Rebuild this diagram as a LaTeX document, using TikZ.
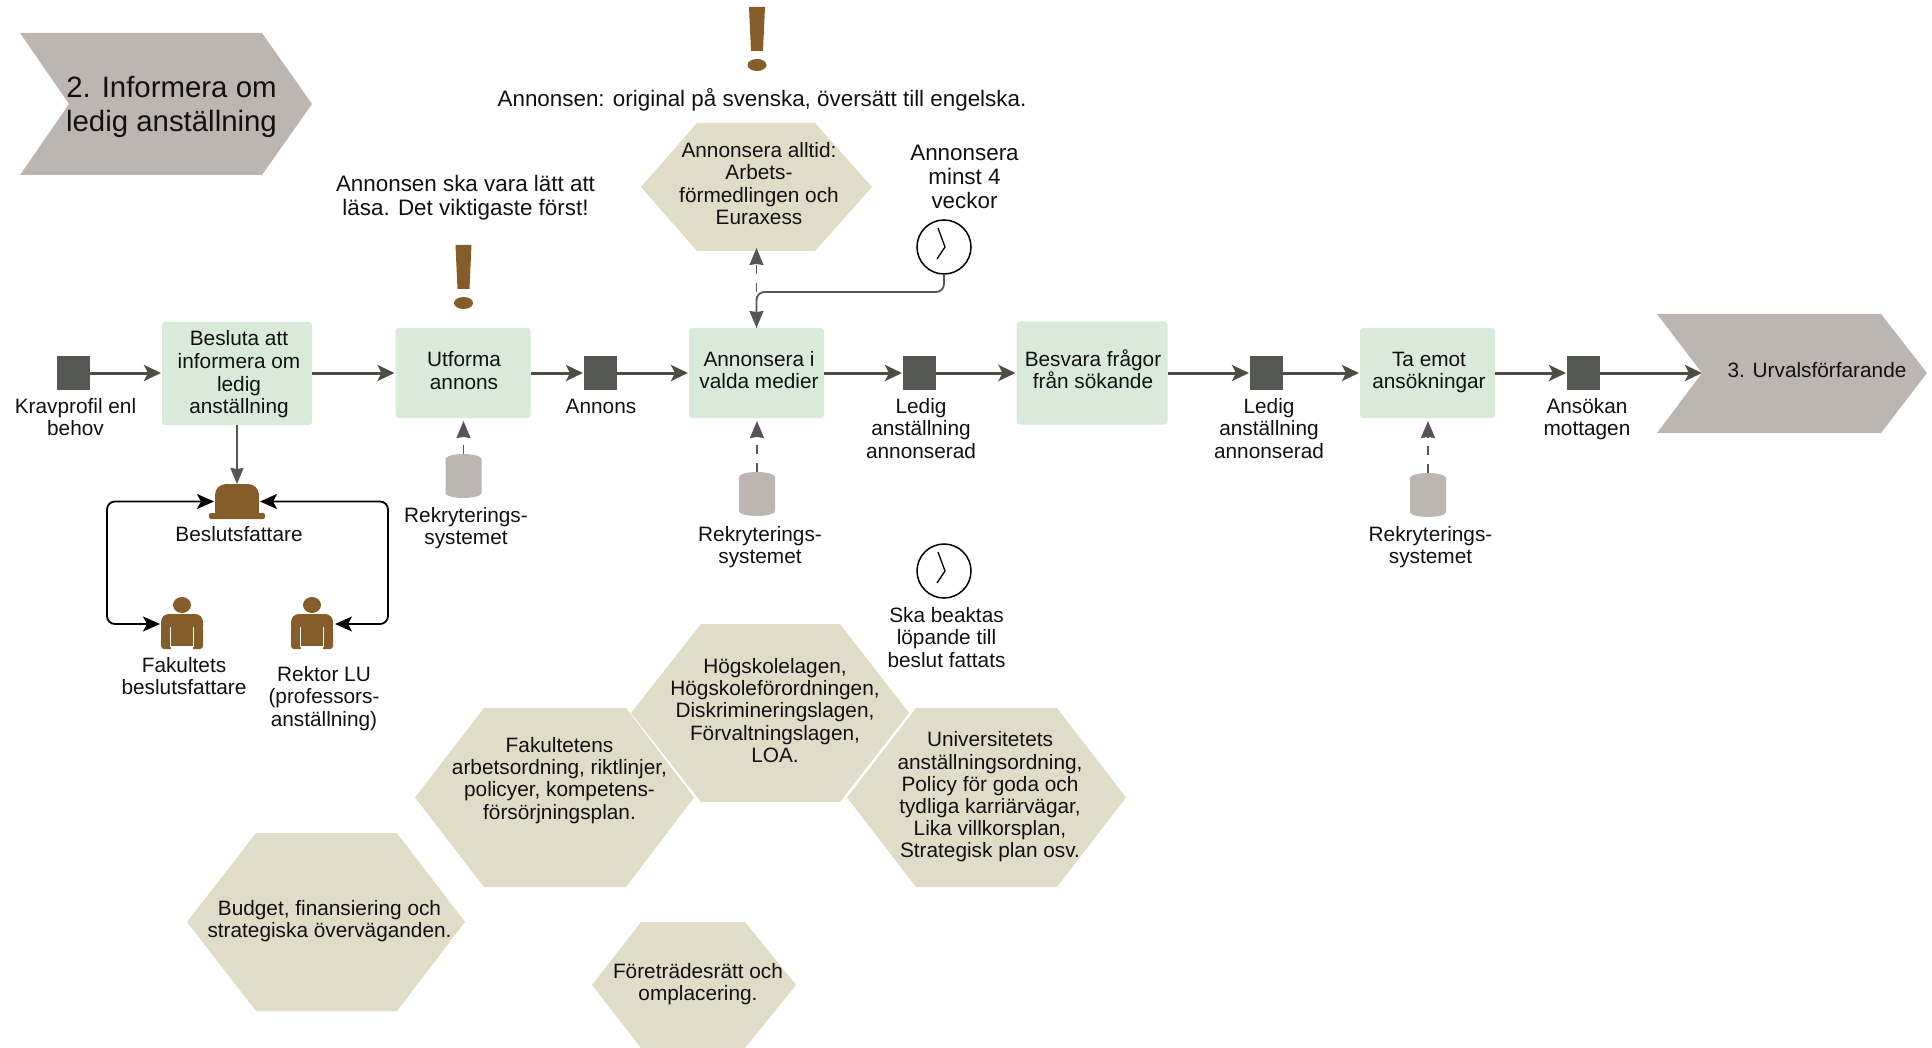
\documentclass[tikz,border=0pt]{standalone}
\usepackage{fontspec}
\setmainfont{Liberation Sans}
\usetikzlibrary{arrows.meta}
\definecolor{chev}{HTML}{BDB5B1}
\definecolor{taskc}{HTML}{D9EADB}
\definecolor{hexc}{HTML}{E0DCC8}
\definecolor{dark}{HTML}{555753}
\definecolor{brownc}{HTML}{845D2A}
\definecolor{arrowc}{HTML}{4D4D45}
\definecolor{txt}{HTML}{111111}
\tikzset{
  lbl/.style={align=center,inner sep=0pt,text=txt,font=\fontsize{20.8}{22.2}\selectfont},
  note/.style={lbl,font=\fontsize{22.4}{23.6}\selectfont},
  ghost/.style={inner sep=0pt,outer sep=0pt,rectangle},
  taskbox/.style={rectangle,fill=taskc,rounded corners=3pt,inner sep=0pt,outer sep=0pt},
  evbox/.style={rectangle,fill=dark,inner sep=0pt,outer sep=0pt,minimum width=33pt,minimum height=33pt},
  flow/.style={draw=arrowc,line width=3pt,-{Stealth[length=17pt,width=16pt,inset=4pt]}},
  dashflow/.style={draw=dark,line width=1.6pt,dash pattern=on 9pt off 9pt,-{Stealth[length=17pt,width=14pt,inset=1pt]}},
  blackflow/.style={draw=black,line width=1.8pt,rounded corners=8pt,{Stealth[length=17pt,width=15pt,inset=4pt]}-{Stealth[length=17pt,width=15pt,inset=4pt]}},
}
\newcommand\hexagonnode[9]{% name, left, topl, topr, right, top, bottom, tx, ty
  \fill[hexc] (#2,{(#6+#7)/2}) -- (#3,#6) -- (#4,#6) -- (#5,{(#6+#7)/2}) -- (#4,#7) -- (#3,#7) -- cycle;
  \node[ghost,minimum width={(#5-#2)*1pt},minimum height={(#7-#6)*1pt}] (#1) at ({(#2+#5)/2},{(#6+#7)/2}) {};
  \node[lbl] (#1t) at (#8,#9)
}
\newcommand\cylnode[3]{%
  \node[ghost,minimum width=36pt,minimum height=44pt,anchor=north] (#1) at (#2,#3) {};
  \fill[chev] ([yshift=-5pt]#1.north west) arc[x radius=18pt,y radius=5pt,start angle=180,end angle=0]
    -- ([yshift=5pt]#1.south east) arc[x radius=18pt,y radius=5pt,start angle=0,end angle=-180] -- cycle;
}
\newcommand\exclam[2]{%
  \begin{scope}[shift={(#1,#2)}]
    \fill[brownc] (-8,0) -- (8,0) -- (6,44) -- (-6,44) -- cycle;
    \fill[brownc] (0,58) ellipse[x radius=9.5pt,y radius=6pt];
  \end{scope}
}
\newcommand\clocknode[3]{%
  \node[circle,draw=black,line width=1.5pt,fill=white,minimum size=54pt,inner sep=0pt,outer sep=0pt] (#1) at (#2,#3) {};
  \begin{scope}[shift={(#2,#3)}]
    \draw[black,line width=1.3pt] (-6,-19) -- (1,0) -- (-7,12);
  \end{scope}
}
\newcommand\personnode[3]{%
  \node[ghost,minimum width=42pt,minimum height=20pt,anchor=north] (#1) at (#2,#3) {};
  \begin{scope}[shift={(#2,#3)}]
    \fill[brownc] (0,-9) ellipse[x radius=9pt,y radius=8pt];
    \fill[brownc,rounded corners=8pt] (-21,20) -- (-21,0) -- (21,0) -- (21,20) -- cycle;
    \fill[brownc,rounded corners=3pt] (-21,12) rectangle (21,35);
    \fill[white] (-11,32) rectangle (11,35.5);
    \draw[white,line width=1pt] (-11.5,13) -- (-11.5,33) (11.5,13) -- (11.5,33);
  \end{scope}
}
\begin{document}
\begin{tikzpicture}[x=1pt,y=-1pt]
\useasboundingbox (0,0) rectangle (1932,1048);
% chevrons
\fill[chev] (20,33) -- (262,33) -- (312,104) -- (262,175) -- (20,175) -- (69,104) -- cycle;
\node[lbl,font=\fontsize{29.4}{33.5}\selectfont] (title) at (171.5,107) {2. Informera om\\ledig anställning};
\fill[chev] (1657,314) -- (1881,314) -- (1927,373) -- (1881,433) -- (1657,433) -- (1702,373) -- cycle;
\coordinate (notch) at (1702,373);
\node[lbl] (next) at (1817,370) {3. Urvalsförfarande};
% events
\node[evbox] (ev1) at (73.5,373) {};
\node[evbox] (ev2) at (600.5,373) {};
\node[evbox] (ev3) at (919.5,373) {};
\node[evbox] (ev4) at (1266.5,373) {};
\node[evbox] (ev5) at (1583.5,373) {};
% tasks
\node[taskbox,minimum width=150pt,minimum height=103pt] (b1) at (237,373.5) {};
\node[taskbox,minimum width=135pt,minimum height=90pt] (b2) at (463,373) {};
\node[taskbox,minimum width=135pt,minimum height=90pt] (b3) at (756.5,373) {};
\node[taskbox,minimum width=151pt,minimum height=103pt] (b4) at (1092,373) {};
\node[taskbox,minimum width=135pt,minimum height=90pt] (b5) at (1427.5,373) {};
\node[lbl] (b1t) at (239,374.5) {Besluta att\\informera om\\[1.5pt]ledig\\anställning};
\node[lbl] (b2t) at (464,370.5) {Utforma\\annons};
\node[lbl] (b3t) at (759,370) {Annonsera i\\valda medier};
\node[lbl] (b4t) at (1093,369.5) {Besvara frågor\\från sökande};
\node[lbl] (b5t) at (1429,372.5) {Ta emot\\ansökningar};
% event labels
\node[lbl] (l1) at (75.5,417) {Kravprofil enl\\behov};
\node[lbl] (l2) at (601,406) {Annons};
\node[lbl] (l3) at (921,428.5) {Ledig\\anställning\\annonserad};
\node[lbl] (l4) at (1269,428.5) {Ledig\\anställning\\annonserad};
\node[lbl] (l5) at (1587,419) {Ansökan\\mottagen};
% flow
\draw[flow] (ev1.east) -- ([xshift=-1pt]b1.west |- ev1.east);
\draw[flow] (b1.east |- ev1.east) -- ([xshift=-1pt]b2.west);
\draw[flow] (b2.east) -- ([xshift=-1pt]ev2.west);
\draw[flow] (ev2.east) -- ([xshift=-1pt]b3.west);
\draw[flow] (b3.east) -- ([xshift=-1pt]ev3.west);
\draw[flow] (ev3.east) -- ([xshift=-1pt]b4.west);
\draw[flow] (b4.east) -- ([xshift=-1pt]ev4.west);
\draw[flow] (ev4.east) -- ([xshift=-1pt]b5.west);
\draw[flow] (b5.east) -- ([xshift=-1pt]ev5.west);
\draw[flow] (ev5.east) -- (notch);
% cylinders
\cylnode{c1}{463.5}{454}
\cylnode{c2}{757}{472}
\cylnode{c3}{1428}{473}
\node[lbl] (c1t) at (466,528) {Rekryterings-\\systemet};
\node[lbl] (c2t) at (760,547) {Rekryterings-\\systemet};
\node[lbl] (c3t) at (1430.5,547) {Rekryterings-\\systemet};
\draw[dashflow] (c1.north) -- ([yshift=-3pt]b2.south -| c1.north);
\draw[dashflow] (c2.north) -- ([yshift=-3pt]b3.south -| c2.north);
\draw[dashflow] (c3.north) -- ([yshift=-3pt]b5.south -| c3.north);
% top hexagon and clock
\hexagonnode{hA}{641}{697}{815}{872}{123}{251}{759}{183.5} {Annonsera alltid:\\Arbets-\\[1pt]förmedlingen och\\Euraxess};
\clocknode{k1}{944}{247}
\node[note] (k1t) at (964.5,177) {Annonsera\\minst 4\\veckor};
\draw[dashflow] (b3.north) -- ([yshift=3pt]hA.south);
\draw[draw=dark,line width=1.8pt,rounded corners=8pt,-{Stealth[length=17pt,width=14pt,inset=1pt]}] (k1.south) -- ++(0,18) -| (b3.north);
% exclamations and notes
\exclam{463.5}{245}
\exclam{757}{7}
\node[note] (n1) at (465.5,197.5) {Annonsen ska vara lätt att\\läsa. Det viktigaste först!};
\node[note] (n2) at (762,100) {Annonsen: original på svenska, översätt till engelska.};
% decision makers
\node[ghost,minimum width=44pt,minimum height=35pt,anchor=north] (desk) at (237,484) {};
\fill[brownc,rounded corners=11pt] (215,516) -- (215,484) -- (259,484) -- (259,516) -- cycle;
\fill[brownc] (215,505) rectangle (259,515);
\fill[brownc,rounded corners=2pt] (209,513) rectangle (265,519);
\personnode{p1}{182}{614}
\personnode{p2}{312}{614}
\node[lbl] (deskt) at (239,534.5) {Beslutsfattare};
\node[lbl] (p1t) at (184,676) {Fakultets\\beslutsfattare};
\node[lbl] (p2t) at (324,698.5) {Rektor LU\\(professors-\\anställning)};
\draw[draw=dark,line width=2pt,-{Stealth[length=16pt,width=13pt,inset=1pt]}] (b1.south) -- (desk.north);
\draw[blackflow] ([xshift=-1pt]p1.west) -- ++(-53,0) |- ([xshift=-1pt]desk.west);
\draw[blackflow] ([xshift=2pt]p2.east) -- ++(53,0) |- ([xshift=1pt]desk.east);
% lower clock
\clocknode{k2}{944}{571}
\node[lbl] (k2t) at (946.5,637.5) {Ska beaktas\\löpande till\\beslut fattats};
% hexagons
\hexagonnode{h1}{631}{701}{840}{909}{624}{802}{775}{710.5} {Högskolelagen,\\Högskoleförordningen,\\Diskrimineringslagen,\\Förvaltningslagen,\\LOA.};
\hexagonnode{h2}{415}{484}{626}{694}{708}{887}{559.5}{780.5} {Fakultetens\\arbetsordning, riktlinjer,\\policyer, kompetens-\\försörjningsplan.};
\hexagonnode{h3}{847}{916}{1057}{1126}{708}{887}{990}{797} {Universitetets\\anställningsordning,\\Policy för goda och\\tydliga karriärvägar,\\Lika villkorsplan,\\Strategisk plan osv.};
\hexagonnode{h4}{187}{256}{397}{465}{833}{1011}{329.5}{921} {Budget, finansiering och\\strategiska överväganden.};
\hexagonnode{h5}{592}{641}{745}{796}{922}{1048}{698}{984} {Företrädesrätt och\\omplacering.};
\end{tikzpicture}
\end{document}
